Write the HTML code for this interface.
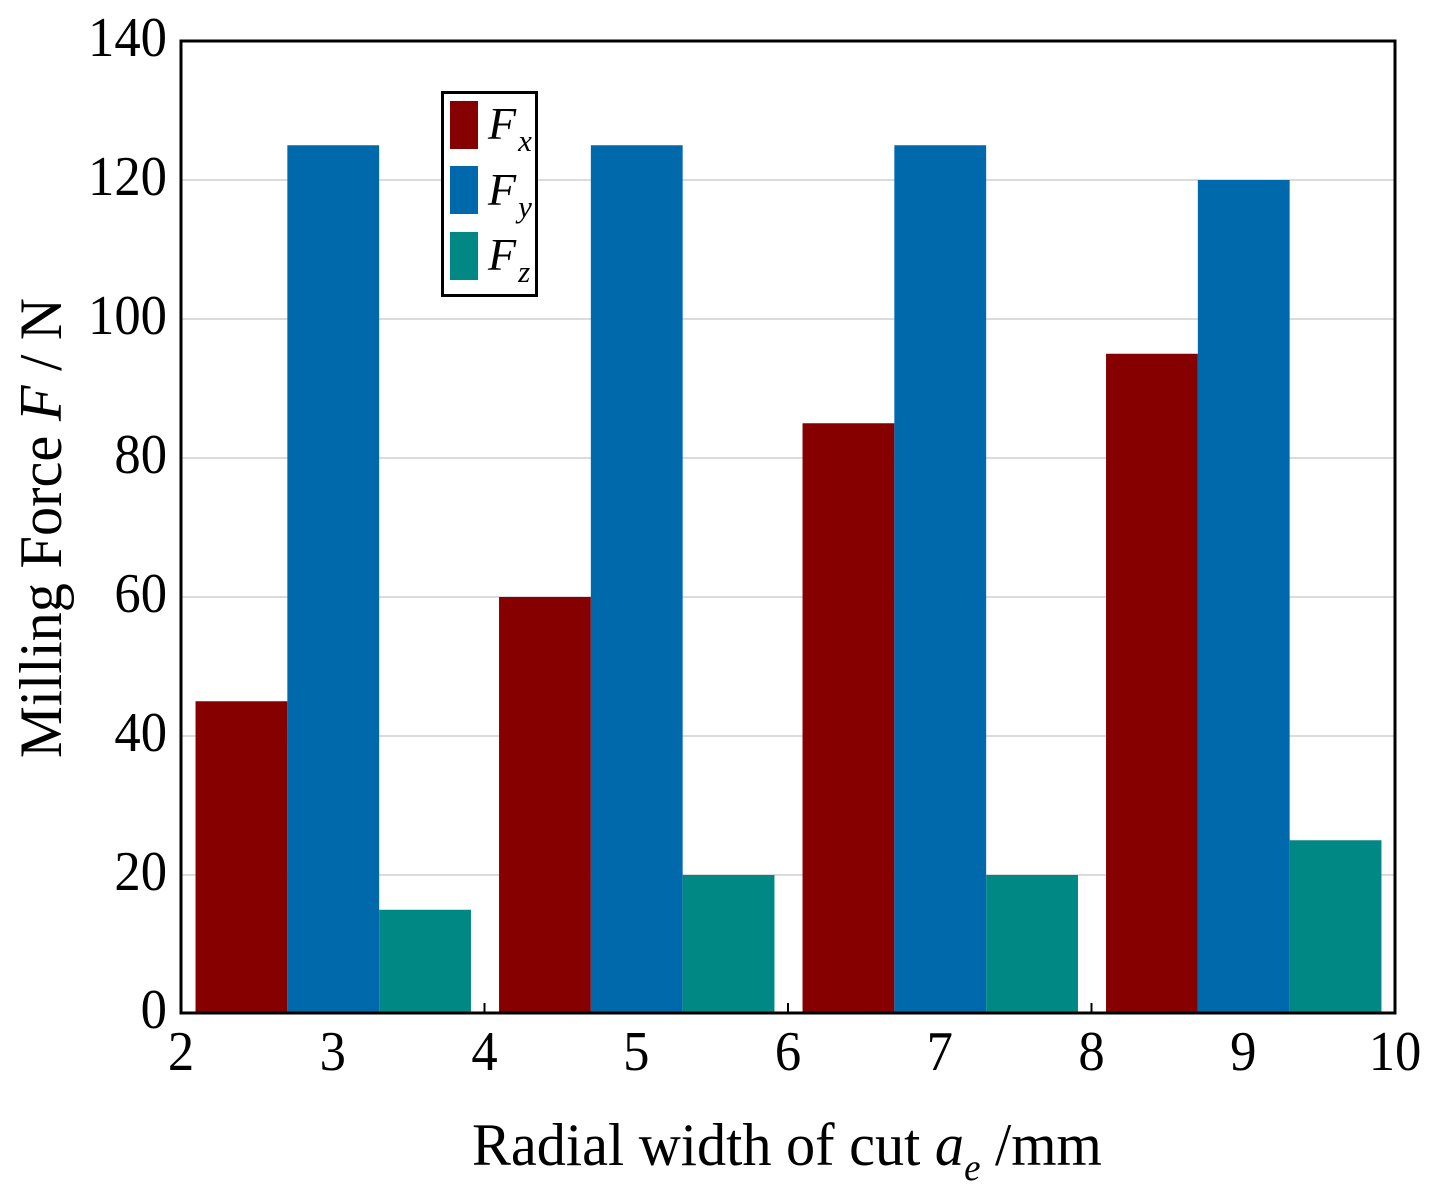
<!DOCTYPE html>
<html>
<head>
<meta charset="utf-8">
<title>Milling Force vs Radial Width of Cut</title>
<style>
html,body{margin:0;padding:0;background:#fff;width:1436px;height:1193px;overflow:hidden}
svg{display:block}
text{font-family:"Liberation Serif",serif;fill:#000}
</style>
</head>
<body>
<svg id="chart" xmlns="http://www.w3.org/2000/svg" width="1436" height="1193" viewBox="0 0 1436 1193">
<rect width="1436" height="1193" fill="#fff"/>
<g id="grid"></g>
<g id="ticks"></g>
<g id="bars"></g>
<rect x="181" y="41" width="1214" height="972" fill="none" stroke="#000" stroke-width="3"/>
<g id="xlabels"></g>
<g id="ylabels"></g>
<text id="xtitle" font-size="60">Radial width of cut <tspan font-style="italic">a</tspan><tspan font-style="italic" font-size="38" dy="15">e</tspan><tspan dy="-15"> /mm</tspan></text>
<text id="ytitle" font-size="60">Milling Force <tspan font-style="italic">F</tspan> / N</text>
<g>
<rect x="442.5" y="92.5" width="94" height="203" fill="#fff" stroke="#000" stroke-width="3"/>
<rect x="450" y="101" width="28" height="48" fill="#870000"/>
<rect x="450" y="166" width="28" height="48" fill="#0069ab"/>
<rect x="450" y="232" width="28" height="48" fill="#008885"/>
<text x="488" y="139" font-size="46" font-style="italic">F<tspan font-size="31" dy="12" dx="2">x</tspan></text>
<text x="488" y="205" font-size="46" font-style="italic">F<tspan font-size="31" dy="12" dx="2">y</tspan></text>
<text x="488" y="270" font-size="46" font-style="italic">F<tspan font-size="31" dy="12" dx="2">z</tspan></text>
</g>
</svg>
<script>
const categories = [3, 5, 7, 9];
const fxValues = [45, 60, 85, 95];
const fyValues = [125, 125, 125, 120];
const fzValues = [15, 20, 20, 25];
const xTickLabels = [2, 3, 4, 5, 6, 7, 8, 9, 10];
const yTickLabels = [0, 20, 40, 60, 80, 100, 120, 140];

const NS = 'http://www.w3.org/2000/svg';
const xScale = v => 181 + (v - 2) * (1214 / 8);
const yScale = v => 1014 - v * (973 / 140);
const BAR_UNITS = 0.605;
const TICK_SQUEEZE = 0.94;

function make(tag, attrs, parent, txt) {
  const el = document.createElementNS(NS, tag);
  for (const k in attrs) el.setAttribute(k, attrs[k]);
  if (txt !== undefined) el.textContent = txt;
  parent.appendChild(el);
  return el;
}

const gridG = document.getElementById('grid');
const barsG = document.getElementById('bars');
const ticksG = document.getElementById('ticks');
const xlG = document.getElementById('xlabels');
const ylG = document.getElementById('ylabels');

yTickLabels.forEach(v => {
  if (v > 0 && v < 140) {
    const ln = make('line', {x1: 181, x2: 1395, y1: yScale(v), y2: yScale(v), stroke: '#cfcfcf', 'stroke-width': 1.5}, gridG);
    
    
  }
  const t = make('text', {transform: 'translate(167,' + (Math.min(yScale(v), 1013) + 15) + ') scale(' + TICK_SQUEEZE + ',1)', 'text-anchor': 'end', 'font-size': 56}, ylG, String(v));
  
  
});

xTickLabels.forEach(v => {
  const t = make('text', {transform: 'translate(' + xScale(v) + ',1070) scale(' + TICK_SQUEEZE + ',1)', 'text-anchor': 'middle', 'font-size': 56}, xlG, String(v));
  
  
  const m = make('line', {x1: xScale(v), x2: xScale(v), y1: 1003, y2: 1013, stroke: '#000', 'stroke-width': 2}, ticksG);
  
  
});

function drawSeries(values, offset, color, name) {
  values.forEach((v, i) => {
    const x0 = xScale(categories[i] + offset - BAR_UNITS / 2) + 0.5;
    const x1 = xScale(categories[i] + offset + BAR_UNITS / 2) + 0.5;
    const r = make('rect', {x: x0, y: yScale(v), width: x1 - x0, height: yScale(0) - yScale(v), fill: color}, barsG);
    
    
  });
}
drawSeries(fxValues, -BAR_UNITS, '#870000', 'fx');
drawSeries(fyValues, 0, '#0069ab', 'fy');
drawSeries(fzValues, BAR_UNITS, '#008885', 'fz');

function fitTitle(id, target, placement) {
  const el = document.getElementById(id);
  const w = el.getComputedTextLength();
  el.setAttribute('transform', placement + ' scale(' + (target / w) + ',1)');
}
fitTitle('xtitle', 630, 'translate(472,1165)');
fitTitle('ytitle', 460, 'translate(61,758) rotate(-90)');
</script>
</body>
</html>
